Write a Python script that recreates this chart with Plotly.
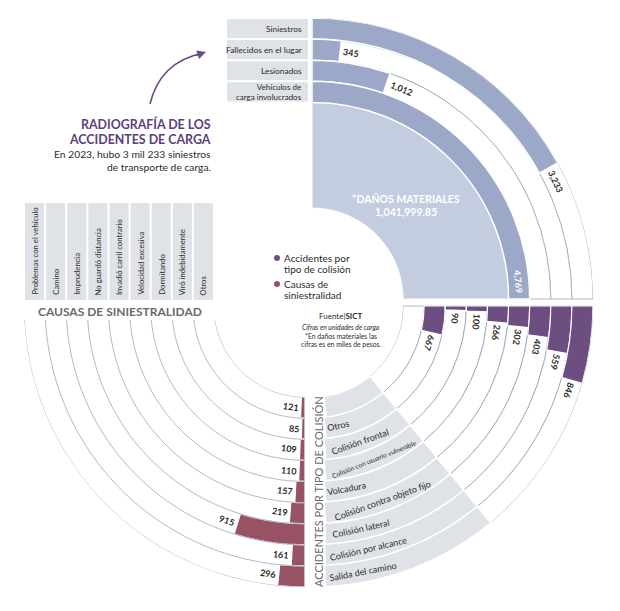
import math
import numpy as np
import plotly.graph_objects as go

W, H = 620, 611

# ---------------- data ----------------
resumen_labels = ["Siniestros", "Fallecidos en el lugar", "Lesionados", "Vehículos de<br>carga involucrados"]
resumen_values = [3233, 345, 1012, 4769]
danos_label = "*DAÑOS MATERIALES"
danos_value = "1,041,999.85"

# collision types, inner ring -> outer ring (innermost ring is empty)
colision_labels = ["Otros", "Colisión frontal", "Colisión con usuario vulnerable", "Volcadura",
                   "Colisión contra objeto fijo", "Colisión lateral", "Colisión por alcance",
                   "Salida del camino"]
colision_values = [667, 90, 100, 266, 302, 403, 559, 846]

# causes, inner ring -> outer ring
causas_labels = ["Otros", "Viró indebidamente", "Dormitando", "Velocidad excesiva",
                 "Invadió carril contrario", "No guardó distancia", "Imprudencia", "Camino",
                 "Problemas con el vehículo"]
causas_values = [121, 85, 109, 110, 157, 219, 915, 161, 296]

# ---------------- style / geometry ----------------
MAXV = 4769          # value that fills a quarter circle
DEG = 90.0 / MAXV
R_IN, R_OUT, NR = 91.0, 281.0, 9
RW = (R_OUT - R_IN) / NR
C_TR = (312, 299)
C_BR = (312, 306)
C_BL = (305, 306)

DARK_BLUE = "#9ba8c8"
LIGHT_BLUE = "#c4cce0"
PURPLE = "#6c4e81"
RED = "#975263"
GRAY = "#dfe2e6"
LINE = "#97a3ba"
TXT = "#2b2b2b"
FONT = "Lato"


def rmid(k):
    return R_IN + (k + 0.5) * RW


def pos(c, rpx, th):
    t = math.radians(th)
    return c[0] + rpx * math.sin(t), c[1] - rpx * math.cos(t)


def paper(x, y):
    return x / W, 1 - y / H


annotations = []
shapes = []


def ann(x, y, text, size=10, color=TXT, angle=0, xa="center", ya="middle", align="center", family=FONT):
    px, py = paper(x, y)
    annotations.append(dict(x=px, y=py, xref="paper", yref="paper", text=text, showarrow=False,
                            font=dict(family=family, size=size, color=color), textangle=angle,
                            xanchor=xa, yanchor=ya, align=align))


def rect(x0, y0, x1, y1, color):
    a0, b0 = paper(x0, y0)
    a1, b1 = paper(x1, y1)
    shapes.append(dict(type="rect", xref="paper", yref="paper", x0=a0, x1=a1, y0=b1, y1=b0,
                       fillcolor=color, line=dict(width=0), layer="below"))


def polar_layout(c):
    cx, cy = c
    return dict(domain=dict(x=[(cx - R_OUT) / W, (cx + R_OUT) / W],
                            y=[1 - (cy + R_OUT) / H, 1 - (cy - R_OUT) / H]),
                hole=R_IN / R_OUT, bgcolor="rgba(0,0,0,0)",
                radialaxis=dict(range=[0, NR], visible=False, showgrid=False),
                angularaxis=dict(direction="clockwise", rotation=90, visible=False,
                                 showgrid=False, showline=False, showticklabels=False, ticks=""))


fig = go.Figure()

# ---------------- top-right quadrant ----------------
res_base = [8, 7, 6, 5]
fig.add_trace(go.Barpolar(r=[5], base=[0], theta=[45], width=[90],
                          marker=dict(color=LIGHT_BLUE, line=dict(color="white", width=1)),
                          subplot="polar", hoverinfo="skip", showlegend=False))
fig.add_trace(go.Barpolar(r=[1] * 4, base=res_base, theta=[45] * 4, width=[90] * 4,
                          marker=dict(color="white", line=dict(color=LINE, width=0.8)),
                          subplot="polar", hoverinfo="skip", showlegend=False))
w_res = [v * DEG for v in resumen_values]
fig.add_trace(go.Barpolar(r=[1] * 4, base=res_base, theta=[w / 2 for w in w_res], width=w_res,
                          marker=dict(color=DARK_BLUE, line=dict(color="white", width=1.5)),
                          subplot="polar", hoverinfo="skip", showlegend=False))

for lab, v, b in zip(resumen_labels, resumen_values, res_base):
    rm = rmid(b)
    end = v * DEG
    txt = f"{v:,}"
    tw = 5.0 * len(txt)
    if end > 85:
        th = end - math.degrees((tw / 2 + 5) / rm)
        col = "white"
    else:
        th = end + math.degrees((tw / 2 + 3) / rm)
        col = TXT
    x, y = pos(C_TR, rm, th)
    ann(x, y, f"<b>{txt}</b>", 9, col, angle=th)
    # label box
    y0 = C_TR[1] - (R_IN + (b + 1) * RW) + 1
    y1 = C_TR[1] - (R_IN + b * RW) - 1
    rect(227, y0, 308, y1, GRAY)
    fs = 8.0 if "<br>" in lab else 8.4
    ann(304, (y0 + y1) / 2 + 0.5, lab, fs, xa="right", align="right")

ann(406, 199, f"<b>{danos_label}</b>", 10.5, "white")
ann(406, 212, f"<b>{danos_value}</b>", 10.5, "white")

# ---------------- bottom-right quadrant ----------------
GRAY_START = 140.5
ks = list(range(NR))
fig.add_trace(go.Barpolar(r=[1] * NR, base=ks, theta=[(90 + GRAY_START) / 2] * NR,
                          width=[GRAY_START - 90] * NR,
                          marker=dict(color="white", line=dict(color=LINE, width=0.8)),
                          subplot="polar2", hoverinfo="skip", showlegend=False))
cuts = [180 - math.degrees(math.asin(13 / rmid(k))) for k in ks]
fig.add_trace(go.Barpolar(r=[1] * NR, base=ks, theta=[(GRAY_START + c) / 2 for c in cuts],
                          width=[c - GRAY_START for c in cuts],
                          marker=dict(color=GRAY, line=dict(color="white", width=1.5)),
                          subplot="polar2", hoverinfo="skip", showlegend=False))
col_base = list(range(1, NR))
w_col = [v * DEG for v in colision_values]
fig.add_trace(go.Barpolar(r=[1] * len(col_base), base=col_base, theta=[90 + w / 2 for w in w_col],
                          width=w_col, marker=dict(color=PURPLE, line=dict(color="white", width=1.2)),
                          subplot="polar2", hoverinfo="skip", showlegend=False))

for k, v, lab in zip(col_base, colision_values, colision_labels):
    rm = rmid(k)
    txt = f"{v:,}"
    tw = 5.0 * len(txt)
    th = 90 + v * DEG + math.degrees((tw / 2 + 3) / rm)
    x, y = pos(C_BR, rm, th)
    ann(x, y, f"<b>{txt}</b>", 9, TXT, angle=th)
    size = 6.6 if "vulnerable" in lab else 9
    lw = len(lab) * size * 0.46
    th2 = cuts[k] - math.degrees((lw / 2 + 3) / rm)
    x, y = pos(C_BR, rm, th2)
    ann(x, y, lab, size, TXT, angle=th2 - 180)

# ---------------- bottom-left quadrant ----------------
for k in range(NR + 1):
    rpx = R_IN + k * RW
    top = 270 - math.degrees(math.asin(14 / rpx))
    th = np.linspace(180, top, 150)
    fig.add_trace(go.Scatterpolar(r=[k] * len(th), theta=th, mode="lines", cliponaxis=False,
                                  line=dict(color=LINE, width=0.8), subplot="polar3",
                                  hoverinfo="skip", showlegend=False))
w_cau = [v * DEG for v in causas_values]
fig.add_trace(go.Barpolar(r=[1] * NR, base=ks, theta=[180 + w / 2 for w in w_cau], width=w_cau,
                          marker=dict(color=RED, line=dict(color="white", width=1.2)),
                          subplot="polar3", hoverinfo="skip", showlegend=False))

for k, v, lab in zip(ks, causas_values, causas_labels):
    rm = rmid(k)
    txt = f"{v:,}"
    tw = 5.0 * len(txt)
    th = 180 + v * DEG + math.degrees((tw / 2 + 3) / rm)
    x, y = pos(C_BL, rm, th)
    ann(x, y, f"<b>{txt}</b>", 9, TXT, angle=th - 180)
    x0 = C_BL[0] - (R_IN + (k + 1) * RW) + 1
    x1 = C_BL[0] - (R_IN + k * RW) - 1
    rect(x0, 203, x1, 300, GRAY)
    ann((x0 + x1) / 2, 297, lab, 7.7, TXT, angle=-90, ya="bottom")

ann(120, 311, "<b>CAUSAS DE SINIESTRALIDAD</b>", 12, "#6a6a6a")
ann(318, 492, "ACCIDENTES POR TIPO DE COLISIÓN", 11, "#6a6a6a", angle=-90)

# ---------------- titles / legend / notes ----------------
ann(213, 124, "<b>RADIOGRAFÍA DE LOS</b>", 12.4, "#5b3e7c", xa="right")
ann(213, 139, "<b>ACCIDENTES DE CARGA</b>", 12.4, "#5b3e7c", xa="right")
ann(213, 154, "En 2023, hubo 3 mil 233 siniestros", 10.3, TXT, xa="right")
ann(213, 167, "de transporte de carga.", 10.3, TXT, xa="right")

for (cy_dot, col, l1, l2) in [(258, PURPLE, "Accidentes por", "tipo de colisión"),
                               (284, RED, "Causas de", "siniestralidad")]:
    a0, b0 = paper(274, cy_dot - 3)
    a1, b1 = paper(280, cy_dot + 3)
    shapes.append(dict(type="circle", xref="paper", yref="paper", x0=a0, x1=a1, y0=b1, y1=b0,
                       fillcolor=col, line=dict(width=0)))
    ann(282, cy_dot, l1, 10, TXT, xa="left")
    ann(282, cy_dot + 11, l2, 10, TXT, xa="left")

ann(341, 316, "Fuente<b><span style='color:#7b5ea7'>|</span>SICT</b>", 8, TXT)
ann(341, 327, "<i>Cifras en unidades de carga</i>", 6.8, TXT)
ann(341, 336, "*En daños materiales las", 6.8, TXT)
ann(341, 344, "cifras es en miles de pesos.", 6.8, TXT)

# curved arrow
p0 = paper(150, 104)
pc = paper(160, 62)
p1 = paper(203, 53)
shapes.append(dict(type="path", xref="paper", yref="paper",
                   path=f"M {p0[0]},{p0[1]} Q {pc[0]},{pc[1]} {p1[0]},{p1[1]}",
                   line=dict(color="#6c4e81", width=1.6)))
ah = paper(206, 52)
annotations.append(dict(x=ah[0], y=ah[1], xref="paper", yref="paper", text="", showarrow=True,
                        ax=-12, ay=4, arrowhead=2, arrowsize=1.1, arrowwidth=1.6,
                        arrowcolor="#6c4e81"))

fig.update_layout(
    width=W, height=H, margin=dict(l=0, r=0, t=0, b=0, pad=0),
    paper_bgcolor="white", plot_bgcolor="white", showlegend=False,
    polar=polar_layout(C_TR), polar2=polar_layout(C_BR), polar3=polar_layout(C_BL),
    annotations=annotations, shapes=shapes,
    font=dict(family=FONT),
)

fig.write_html("out.html")
